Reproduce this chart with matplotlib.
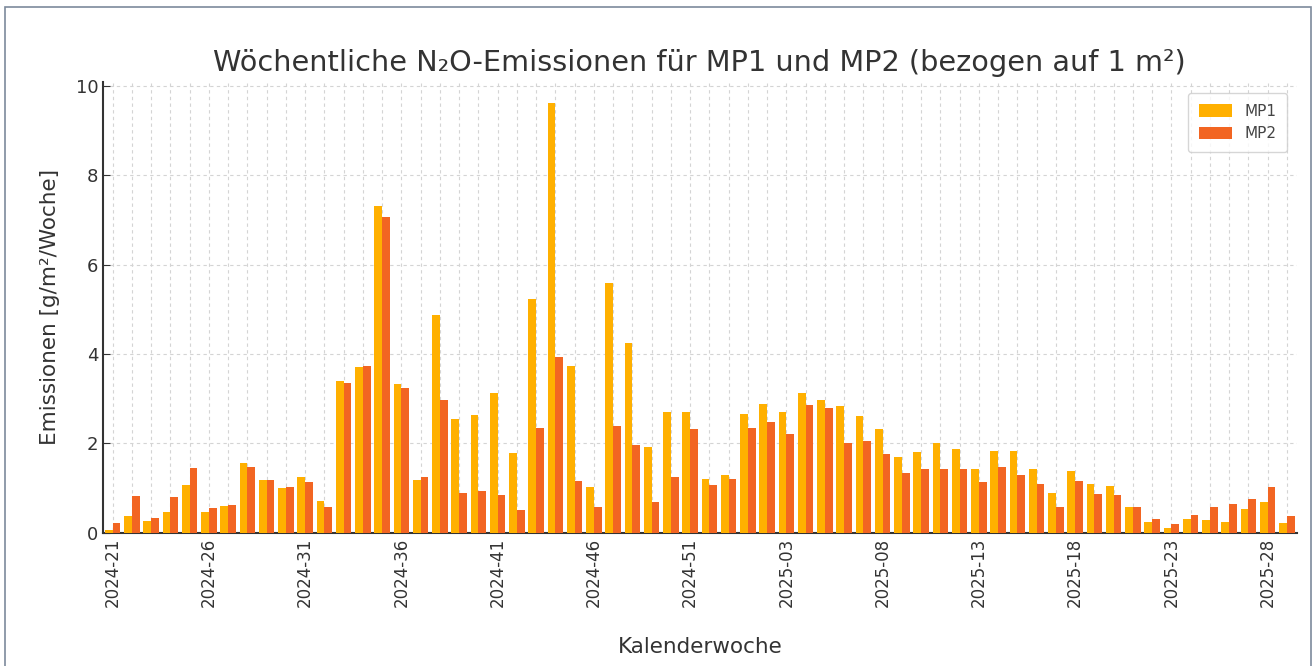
import matplotlib
matplotlib.use("Agg")
import matplotlib.pyplot as plt
from matplotlib.patches import Rectangle
import numpy as np

weeks = (["2024-%02d" % w for w in range(21, 53)] +
         ["2025-%02d" % w for w in range(0, 30)])

mp1 = [0.07, 0.37, 0.27, 0.46, 1.07, 0.46, 0.60, 1.55, 1.18, 1.00,
       1.24, 0.72, 3.39, 3.71, 7.32, 3.32, 1.19, 4.86, 2.54, 2.63,
       3.12, 1.78, 5.22, 9.61, 3.73, 1.03, 5.59, 4.24, 1.91, 2.70,
       2.70, 1.21, 1.28, 2.65, 2.89, 2.70, 3.13, 2.98, 2.83, 2.60,
       2.33, 1.70, 1.81, 2.00, 1.87, 1.43, 1.83, 1.83, 1.42, 0.88,
       1.38, 1.08, 1.04, 0.58, 0.25, 0.10, 0.31, 0.28, 0.25, 0.52,
       0.69, 0.21]

mp2 = [0.21, 0.81, 0.34, 0.80, 1.44, 0.55, 0.62, 1.46, 1.18, 1.03,
       1.14, 0.58, 3.36, 3.74, 7.06, 3.23, 1.25, 2.98, 0.89, 0.94,
       0.84, 0.51, 2.34, 3.94, 1.16, 0.58, 2.39, 1.96, 0.69, 1.25,
       2.33, 1.07, 1.21, 2.34, 2.48, 2.21, 2.86, 2.79, 2.00, 2.06,
       1.75, 1.33, 1.43, 1.43, 1.43, 1.14, 1.46, 1.30, 1.10, 0.58,
       1.16, 0.86, 0.84, 0.58, 0.30, 0.19, 0.39, 0.57, 0.64, 0.76,
       1.03, 0.37]

c1 = "#FFB000"
c2 = "#F26522"
txt = "#333333"

fig = plt.figure(figsize=(13.13, 6.66), dpi=100)
ax = fig.add_axes([103/1313, 1-532.7/666, (1296.5-103)/1313, (532.7-81.7)/666])

x = np.arange(len(weeks))
w = 0.4
ax.bar(x - w/2, mp1, width=w, color=c1, label="MP1", zorder=3)
ax.bar(x + w/2, mp2, width=w, color=c2, label="MP2", zorder=3)

ax.set_xlim(-0.5, len(weeks) - 0.5)
ax.set_ylim(0, max(max(mp1), max(mp2)) * 1.05)
ax.set_xticks(x)
ax.set_xticklabels([lab if i % 5 == 0 else "" for i, lab in enumerate(weeks)],
                   rotation=90, fontsize=12, color=txt)
ax.set_yticks([0, 2, 4, 6, 8, 10])
ax.tick_params(axis="y", labelsize=13, colors=txt, direction="in", length=5)
ax.tick_params(axis="x", direction="in", length=4, colors=txt)
for t in ax.get_xticklabels():
    t.set_color(txt)

ax.grid(True, linestyle=(0, (3, 3)), color="#d4d4d4", linewidth=0.8, zorder=0)
ax.set_axisbelow(True)
for s in ["top", "right"]:
    ax.spines[s].set_visible(False)
for s in ["left", "bottom"]:
    ax.spines[s].set_color("#333333")
    ax.spines[s].set_linewidth(1.5)

ax.set_title("Wöchentliche N\u2082O-Emissionen für MP1 und MP2 (bezogen auf 1 m²)",
             fontsize=20.7, color=txt, pad=8)
ax.set_ylabel("Emissionen [g/m²/Woche]", fontsize=15.5, color=txt, labelpad=11)
ax.set_xlabel("Kalenderwoche", fontsize=15.5, color=txt, labelpad=22)

leg = ax.legend(loc="upper right", fontsize=11, frameon=True, borderpad=0.7,
                handlelength=2.2, handleheight=0.9, borderaxespad=0.3,
                bbox_to_anchor=(0.996, 0.985))
leg.get_frame().set_edgecolor("#cccccc")
for t in leg.get_texts():
    t.set_color("#444444")

fig.patches.append(Rectangle((5/1313, -0.01), (1311-5)/1313, 1.01 - 7/666,
                             transform=fig.transFigure, fill=False,
                             edgecolor="#7d8a9c", linewidth=1.2))

fig.savefig("out.png", dpi=100)
